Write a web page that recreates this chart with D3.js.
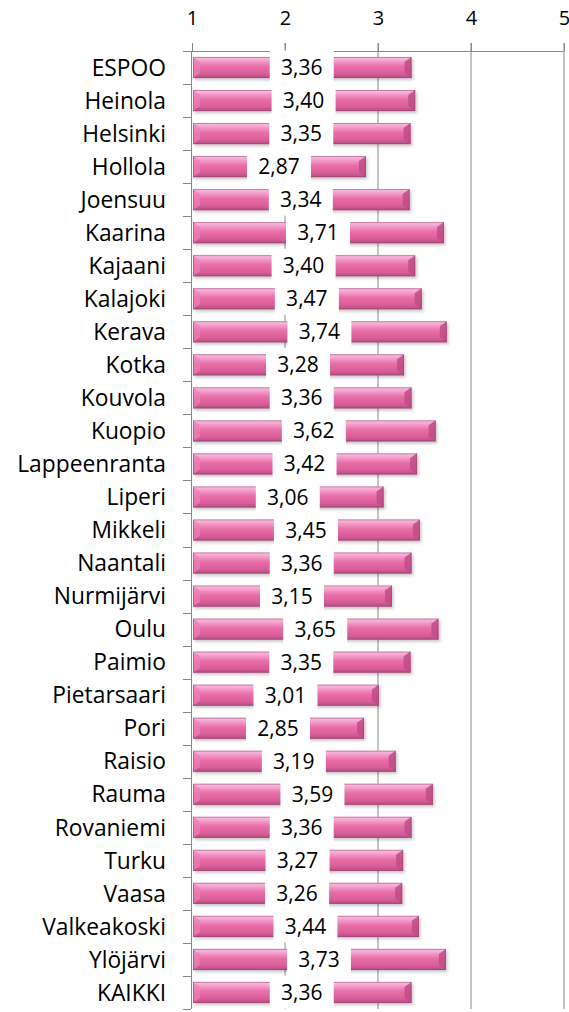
<!DOCTYPE html>
<html>
<head>
<meta charset="utf-8">
<script src="https://cdn.jsdelivr.net/npm/d3@7"></script>
<style>
  html, body { margin: 0; padding: 0; background: #fff; }
  svg { display: block; }
  text { font-family: "Open Sans", Lato, sans-serif; font-weight: 400; fill: #000; }
</style>
</head>
<body>
<script>
// data
const cities = ["ESPOO", "Heinola", "Helsinki", "Hollola", "Joensuu", "Kaarina", "Kajaani", "Kalajoki",
    "Kerava", "Kotka", "Kouvola", "Kuopio", "Lappeenranta", "Liperi", "Mikkeli", "Naantali", "Nurmijärvi",
    "Oulu", "Paimio", "Pietarsaari", "Pori", "Raisio", "Rauma", "Rovaniemi", "Turku", "Vaasa",
    "Valkeakoski", "Ylöjärvi", "KAIKKI"];
const scores = [3.36, 3.40, 3.35, 2.87, 3.34, 3.71, 3.40, 3.47, 3.74, 3.28, 3.36, 3.62, 3.42, 3.06, 3.45,
    3.36, 3.15, 3.65, 3.35, 3.01, 2.85, 3.19, 3.59, 3.36, 3.27, 3.26, 3.44, 3.73, 3.36];
const tick_values = [1, 2, 3, 4, 5];

// setup
const WIDTH = 569;
const HEIGHT = 1012;
const GRID_COLOR = "#888";
const PLOT_TOP = 51;
const PLOT_BOTTOM = 1009;

const svg = d3.select("body").append("svg")
    .attr("width", WIDTH)
    .attr("height", HEIGHT);

const x = d3.scaleLinear().domain([1, 5]).range([192, 564]);
const y = d3.scaleBand().domain(cities).range([PLOT_TOP, PLOT_BOTTOM]).paddingInner(0.36).paddingOuter(0.18);

const fmt = v => d3.format(".2f")(v).replace(".", ",");

// gradients
const defs = svg.append("defs");
const grad = defs.append("linearGradient").attr("id", "barGrad")
    .attr("x1", 0).attr("y1", 0).attr("x2", 0).attr("y2", 1);
[["0%", "#fac6e3"], ["18%", "#f5a0cd"], ["45%", "#e86ea8"], ["80%", "#d95d98"], ["100%", "#b24d80"]]
    .forEach(([o, c]) => grad.append("stop").attr("offset", o).attr("stop-color", c));

const shadow = defs.append("filter").attr("id", "shadow")
    .attr("x", "-5%").attr("y", "-20%").attr("width", "115%").attr("height", "160%");
shadow.append("feDropShadow").attr("dx", 1.5).attr("dy", 2).attr("stdDeviation", 1.5)
    .attr("flood-color", "#000").attr("flood-opacity", 0.22);

// grid lines
svg.append("g").selectAll("line")
    .data(tick_values.slice(1))
    .join("line")
    .attr("x1", d => x(d)).attr("x2", d => x(d))
    .attr("y1", 43).attr("y2", PLOT_BOTTOM)
    .attr("stroke", GRID_COLOR);

// top axis
const top_axis = svg.append("g")
    .attr("transform", "translate(0," + PLOT_TOP + ")")
    .call(d3.axisTop(x).tickValues(tick_values).tickSize(8).tickPadding(18).tickFormat(d3.format("d")));
top_axis.select(".domain").attr("d", "M183,0.5H" + x(5)).attr("stroke", GRID_COLOR);
top_axis.selectAll(".tick line").attr("stroke", GRID_COLOR);
top_axis.selectAll("text").attr("font-size", 20).attr("font-family", "'Open Sans', sans-serif").attr("fill", "#000");

// left axis
const row = (PLOT_BOTTOM - PLOT_TOP) / cities.length;
const left = svg.append("g");
left.append("line")
    .attr("x1", 191.5).attr("x2", 191.5).attr("y1", PLOT_TOP).attr("y2", PLOT_BOTTOM)
    .attr("stroke", GRID_COLOR);
left.selectAll("line.tk")
    .data(d3.range(cities.length + 1))
    .join("line")
    .attr("class", "tk")
    .attr("x1", 183).attr("x2", 191)
    .attr("y1", i => Math.round(PLOT_TOP + i * row) + 0.5)
    .attr("y2", i => Math.round(PLOT_TOP + i * row) + 0.5)
    .attr("stroke", GRID_COLOR);

left.selectAll("text")
    .data(cities)
    .join("text")
    .attr("x", 166)
    .attr("y", d => y(d) + y.bandwidth() / 2)
    .attr("dy", "0.36em")
    .attr("text-anchor", "end")
    .attr("font-size", 22.8)
    .text(d => d);

// bars
const B = 7;
const bars = svg.append("g").selectAll("g")
    .data(cities.map((c, i) => ({city: c, value: scores[i]})))
    .join("g")
    .attr("filter", "url(#shadow)");

bars.append("rect")
    .attr("x", x(1) + 1)
    .attr("y", d => y(d.city))
    .attr("width", d => x(d.value) - x(1) - 1)
    .attr("height", y.bandwidth())
    .attr("fill", "url(#barGrad)");

bars.append("polygon")
    .attr("points", d => {
        const x0 = x(1) + 1, y0 = y(d.city), h = y.bandwidth();
        return [[x0, y0], [x0 + B, y0 + 5], [x0 + B, y0 + h - 5], [x0, y0 + h]].join(" ");
    })
    .attr("fill", "#f07fb8").attr("opacity", 0.7);

bars.append("polygon")
    .attr("points", d => {
        const x1 = x(d.value), y0 = y(d.city), h = y.bandwidth();
        return [[x1, y0], [x1 - B, y0 + 5], [x1 - B, y0 + h - 5], [x1, y0 + h]].join(" ");
    })
    .attr("fill", "#c04c86").attr("opacity", 0.85);

bars.append("rect")
    .attr("x", x(1) + 1.5)
    .attr("y", d => y(d.city) + 0.5)
    .attr("width", d => x(d.value) - x(1) - 2)
    .attr("height", y.bandwidth() - 1)
    .attr("fill", "none")
    .attr("stroke", "#9a3f6c")
    .attr("stroke-opacity", 0.55);

// value labels with white boxes
const labels = svg.append("g").selectAll("g")
    .data(cities.map((c, i) => ({city: c, value: scores[i]})))
    .join("g")
    .attr("transform", d => `translate(${(x(1) + x(d.value)) / 2},${y(d.city) + y.bandwidth() / 2})`);

labels.append("rect")
    .attr("x", -32).attr("y", -17)
    .attr("width", 64).attr("height", 33)
    .attr("fill", "#fff");

labels.append("text")
    .attr("text-anchor", "middle")
    .attr("dy", "0.36em")
    .attr("font-size", 21)
    .text(d => fmt(d.value));
</script>
</body>
</html>
